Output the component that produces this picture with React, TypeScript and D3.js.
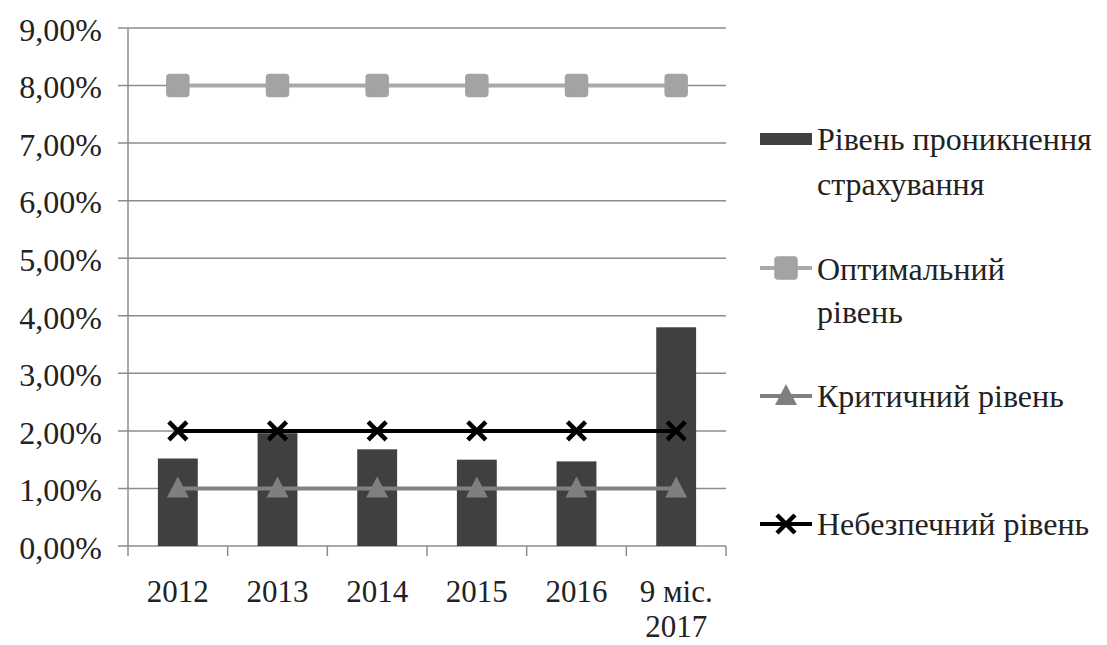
import * as d3 from 'd3';

const categories = ['2012', '2013', '2014', '2015', '2016', '9 міс.|2017'];
const penetration = [1.52, 1.96, 1.68, 1.5, 1.47, 3.8];
const optimal = [8, 8, 8, 8, 8, 8];
const critical = [1, 1, 1, 1, 1, 1];
const dangerous = [2, 2, 2, 2, 2, 2];
const yTicks = [0, 1, 2, 3, 4, 5, 6, 7, 8, 9];

const W = 1107;
const H = 645;
const FONT = "'Liberation Serif', 'Times New Roman', Tinos, 'DejaVu Serif', serif";

const x = d3.scaleBand<string>().domain(categories).range([128, 726]).paddingInner(0.6).paddingOuter(0.3);
const y = d3.scaleLinear().domain([0, 9]).range([546, 28]);
const cx = (c: string) => (x(c) ?? 0) + x.bandwidth() / 2;
const fmt = (v: number) => d3.format('.2f')(v).replace('.', ',') + '%';

const lineGen = d3.line<number>().x((_, i) => cx(categories[i])).y((d) => y(d));

const txt = { fontFamily: FONT, fontSize: 32, fill: '#222' } as const;

function Square({ px, py, fill }: { px: number; py: number; fill: string }) {
  return <rect x={px - 11} y={py - 11} width={22} height={22} rx={3} fill={fill} stroke="#a3a3a3" strokeWidth={1.5} />;
}

function Tri({ px, py, fill }: { px: number; py: number; fill: string }) {
  return <path d={`M${px},${py - 12}L${px + 11},${py + 9}L${px - 11},${py + 9}Z`} fill={fill} />;
}

function Cross({ px, py }: { px: number; py: number }) {
  return (
    <path d={`M${px - 9},${py - 9}L${px + 9},${py + 9}M${px + 9},${py - 9}L${px - 9},${py + 9}`} stroke="#000" strokeWidth={4.5} />
  );
}

export default function App() {
  const legendX = 760;
  return (
    <svg width={W} height={H} style={{ position: 'absolute', left: 0, top: 0, background: '#fff', fontFamily: FONT }}>
      {/* grid */}
      {yTicks.map((t) => (
        <g key={t}>
          <line x1={118} x2={726} y1={y(t)} y2={y(t)} stroke="#8c8c8c" strokeWidth={1.5} />
          <text x={102} y={y(t)} dy="0.4em" textAnchor="end" style={txt}>
            {fmt(t)}
          </text>
        </g>
      ))}
      <line x1={128} x2={128} y1={y(9)} y2={y(0)} stroke="#8c8c8c" strokeWidth={1.5} />
      {/* x ticks */}
      {categories.map((c, i) => {
        const tx = (x(c) ?? 0) - (x.step() - x.bandwidth()) / 2;
        return <line key={'t' + i} x1={tx} x2={tx} y1={546} y2={556} stroke="#8c8c8c" strokeWidth={1.5} />;
      })}
      <line x1={726} x2={726} y1={546} y2={556} stroke="#8c8c8c" strokeWidth={1.5} />
      {/* bars */}
      {categories.map((c, i) => (
        <rect key={'b' + i} x={x(c)} y={y(penetration[i])} width={x.bandwidth()} height={y(0) - y(penetration[i])} fill="#404040" />
      ))}
      {/* lines */}
      <path d={lineGen(optimal) ?? ''} fill="none" stroke="#a9a9a9" strokeWidth={4} />
      {optimal.map((v, i) => (
        <Square key={'s' + i} px={cx(categories[i])} py={y(v)} fill="#a3a3a3" />
      ))}
      <path d={lineGen(critical) ?? ''} fill="none" stroke="#808080" strokeWidth={4} />
      {critical.map((v, i) => (
        <Tri key={'tr' + i} px={cx(categories[i])} py={y(v)} fill="#7f7f7f" />
      ))}
      <path d={lineGen(dangerous) ?? ''} fill="none" stroke="#000" strokeWidth={4} />
      {dangerous.map((v, i) => (
        <Cross key={'x' + i} px={cx(categories[i])} py={y(v)} />
      ))}
      {/* x labels */}
      {categories.map((c, i) => (
        <text key={'l' + i} x={cx(c)} y={602} textAnchor="middle" style={{ ...txt, fontSize: 31 }}>
          {c.split('|').map((part, j) => (
            <tspan key={j} x={cx(c)} dy={j === 0 ? 0 : 35}>
              {part}
            </tspan>
          ))}
        </text>
      ))}
      {/* legend */}
      <rect x={legendX} y={133} width={52} height={12} fill="#404040" />
      <text x={817} y={150} style={txt}>
        <tspan x={817}>Рівень проникнення</tspan>
        <tspan x={817} dy={45}>страхування</tspan>
      </text>

      <line x1={legendX} x2={legendX + 52} y1={268} y2={268} stroke="#a9a9a9" strokeWidth={4} />
      <Square px={legendX + 26} py={268} fill="#a3a3a3" />
      <text x={817} y={280} style={txt}>
        <tspan x={817}>Оптимальний</tspan>
        <tspan x={817} dy={43}>рівень</tspan>
      </text>

      <line x1={legendX} x2={legendX + 52} y1={396} y2={396} stroke="#808080" strokeWidth={4} />
      <Tri px={legendX + 26} py={396} fill="#7f7f7f" />
      <text x={817} y={407} style={txt}>Критичний рівень</text>

      <line x1={legendX} x2={legendX + 52} y1={524} y2={524} stroke="#000" strokeWidth={4} />
      <Cross px={legendX + 26} py={524} />
      <text x={817} y={535} style={txt}>Небезпечний рівень</text>
    </svg>
  );
}
